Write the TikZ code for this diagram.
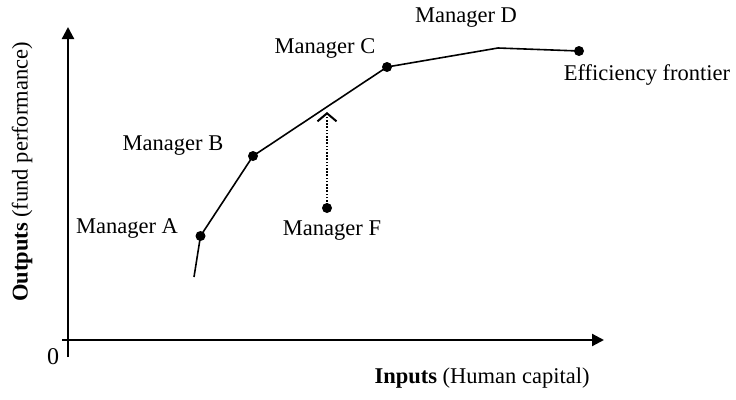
\documentclass[tikz,border=0pt]{standalone}
\usepackage{fontspec}
\setmainfont{Liberation Serif}[Ligatures=NoCommon]
\usetikzlibrary{arrows.meta}
\begin{document}
\begin{tikzpicture}[x=1pt,y=-1pt,
  lbl/.style={font=\fontsize{22.5}{26}\selectfont, inner sep=0pt},
  dot/.style={circle, fill=black, inner sep=0pt, minimum size=10pt},
  axis/.style={line width=2.2pt, -{Triangle[length=12pt,width=12pt]}},
  front/.style={line width=1.6pt, line join=miter}]
\useasboundingbox (0,0) rectangle (736,399);
% axes
\coordinate (ybot) at (68,357);
\coordinate (ytop) at (68,27);
\coordinate (xleft) at (62,340);
\coordinate (xright) at (604,340);
\draw[axis] (ybot) -- (ytop);
\draw[axis] (xleft) -- (xright);
\node[lbl, font=\fontsize{24}{28}\selectfont] (zero) at (53,357) {0};
\node[lbl, rotate=90] (ylab) at (22,172) {\textbf{Outputs} (fund performance)};
\node[lbl] (xlab) at (482,378) {\textbf{Inputs} (Human capital)};
% frontier
\coordinate (start) at (194,277);
\node[dot] (A) at (200.5,236) {};
\node[dot] (B) at (253,156) {};
\node[dot] (C) at (387,67) {};
\coordinate (D) at (498,48);
\node[dot] (E) at (579,51) {};
\draw[front] (start) -- (A.center) -- (B.center) -- (C.center) -- (D) -- (E.center);
% manager F
\node[dot] (F) at (327,208) {};
\coordinate (Ftip) at (327,112);
\draw[line width=1.6pt, dash pattern=on 1.6pt off 1.6pt, -{Straight Barb[length=8pt,width=19pt,line width=2pt]}] (F.center) -- (Ftip);
% labels
\node[lbl] (la) at (127,228) {Manager A};
\node[lbl] (lb) at (173,146) {Manager B};
\node[lbl] (lc) at (325,48) {Manager C};
\node[lbl] (ld) at (466,18) {Manager D};
\node[lbl] (le) at (647,75) {Efficiency frontier};
\node[lbl] (lf) at (332,231) {Manager F};
\end{tikzpicture}
\end{document}
